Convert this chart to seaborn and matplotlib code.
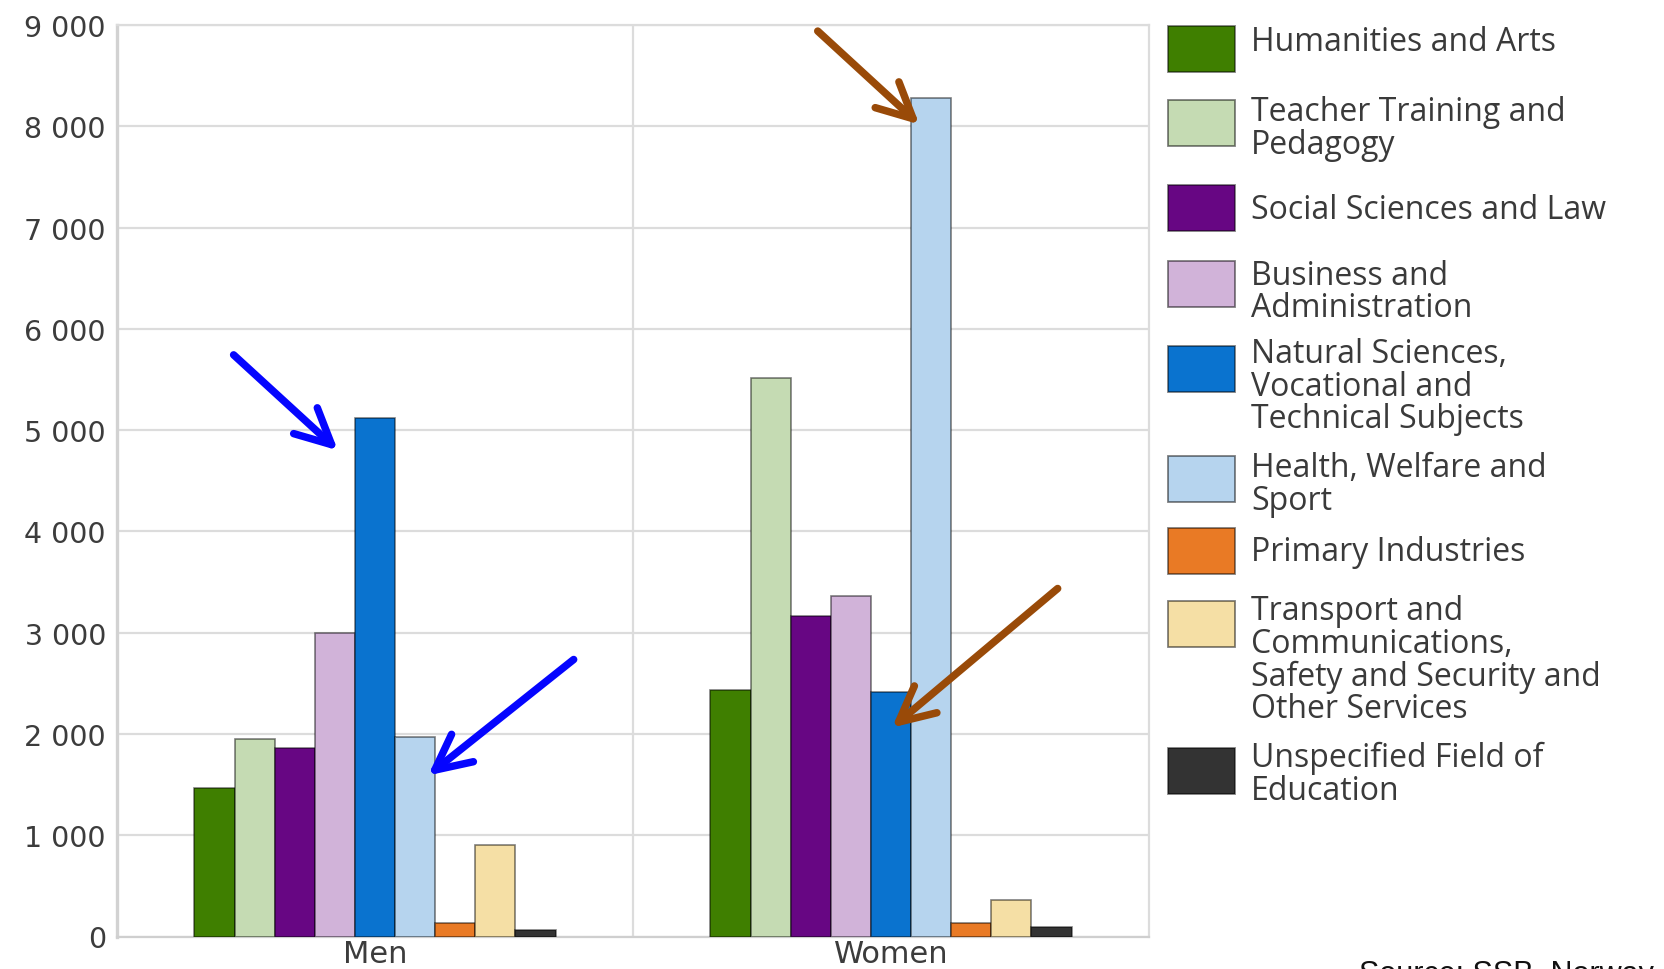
import numpy as np
import pandas as pd
import matplotlib
matplotlib.use("Agg")
import matplotlib.pyplot as plt
from matplotlib.patches import Rectangle
from matplotlib.ticker import FuncFormatter, FixedLocator, MultipleLocator
import seaborn as sns

# ---- data -------------------------------------------------------------
genders = ["Men", "Women"]
fields = [
    "Humanities and Arts",
    "Teacher Training and\nPedagogy",
    "Social Sciences and Law",
    "Business and\nAdministration",
    "Natural Sciences,\nVocational and\nTechnical Subjects",
    "Health, Welfare and\nSport",
    "Primary Industries",
    "Transport and\nCommunications,\nSafety and Security and\nOther Services",
    "Unspecified Field of\nEducation",
]
men_values = [1470, 1950, 1860, 3000, 5120, 1970, 130, 900, 60]
women_values = [2430, 5510, 3160, 3360, 2410, 8280, 130, 360, 90]
field_colors = [
    "#3f7f00", "#c5dbb3", "#670683", "#d1b3d9", "#0a73cf",
    "#b6d4ee", "#e97a25", "#f5dfa5", "#333333",
]
source_note = "Source: SSB, Norway"

df = pd.DataFrame({
    "gender": np.repeat(genders, len(fields)),
    "field": fields * len(genders),
    "value": men_values + women_values,
})
palette = dict(zip(fields, field_colors))

# ---- figure -----------------------------------------------------------
sns.set_theme(style="white")
plt.rcParams["font.family"] = ["DejaVu Sans"]

W, H = 1665, 970
fig = plt.figure(figsize=(W / 100, H / 100), dpi=100)
ax = fig.add_axes([117 / W, 1 - 937.5 / H, (1149 - 117) / W, (937.5 - 26) / H])

sns.barplot(
    data=df, x="gender", y="value", hue="field", hue_order=fields,
    palette=palette, saturation=1, width=0.7, errorbar=None,
    edgecolor=(0, 0, 0, 0.5), linewidth=1.2, legend=False, ax=ax, zorder=3,
)

ax.set_xlim(-0.5, 1.5)
ax.set_ylim(0, 9000)
ax.yaxis.set_major_locator(MultipleLocator(1000))
ax.yaxis.set_major_formatter(FuncFormatter(lambda v, _: f"{int(v):,}".replace(",", " ")))
ax.xaxis.set_minor_locator(FixedLocator([0.5]))

grid_col = "#dcdcdc"
ax.grid(axis="y", which="major", color=grid_col, linewidth=1.6, zorder=0)
ax.grid(axis="x", which="minor", color=grid_col, linewidth=1.6, zorder=0)
ax.set_axisbelow(True)

for side in ["top", "right"]:
    ax.spines[side].set_color(grid_col)
    ax.spines[side].set_linewidth(1.6)
ax.spines["left"].set_color("#d2d2d2")
ax.spines["left"].set_linewidth(2.4)
ax.spines["bottom"].set_color("#cfcfcf")
ax.spines["bottom"].set_linewidth(1.6)

ax.set_xlabel("")
ax.set_ylabel("")
ax.tick_params(axis="both", which="both", length=0)
ax.tick_params(axis="y", labelsize=20.5, labelcolor="#3c3c3c", pad=8)
ax.tick_params(axis="x", labelsize=22, labelcolor="#3c3c3c", pad=2)

# ---- highlight arrows -------------------------------------------------
arrow_specs = [
    ((-0.072, 4800), (-0.274, 5743), "#0505ff"),
    ((0.103, 1591), (0.385, 2735), "#0505ff"),
    ((1.055, 8018), (0.858, 8940), "#994a08"),
    ((1.002, 2063), (1.323, 3436), "#994a08"),
]
for head, tail, col in arrow_specs:
    ax.annotate(
        "", xy=head, xytext=tail, xycoords="data", textcoords="data",
        annotation_clip=False, zorder=6,
        arrowprops=dict(
            arrowstyle="->,head_length=0.85,head_width=0.42",
            color=col, lw=5.4, mutation_scale=30,
            shrinkA=0, shrinkB=0, capstyle="round", joinstyle="round",
        ),
    )

# ---- legend (handles top-aligned with first text line) ----------------
patch_tops = [26.5, 101, 186, 262, 347, 457, 529, 602, 749]
text_tops = [26, 96, 194, 260, 338.5, 452, 536, 595.5, 742]
sw_x, sw_w, sw_h = 1168, 67, 46
txt_x = 1251
for label, col, pt, tt in zip(fields, field_colors, patch_tops, text_tops):
    fig.add_artist(Rectangle(
        (sw_x / W, 1 - (pt + sw_h) / H), sw_w / W, sw_h / H,
        transform=fig.transFigure, facecolor=col,
        edgecolor=(0, 0, 0, 0.5), linewidth=1.3,
    ))
    fig.text(txt_x / W, 1 - tt / H, label, ha="left", va="top",
             fontsize=23, family=["Open Sans", "DejaVu Sans"],
             color="#3a3a3a", linespacing=0.98)

fig.text(1359 / W, 1 - 983 / H, source_note, ha="left", va="baseline",
         fontsize=22, family=["Liberation Sans", "DejaVu Sans"], color="#111111")

fig.savefig("out.png", dpi=100, facecolor="white")
